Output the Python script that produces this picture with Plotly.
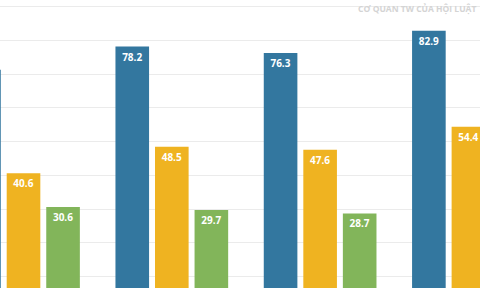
import plotly.graph_objects as go

categories = ["Nhóm 1", "Nhóm 2", "Nhóm 3", "Nhóm 4"]
series_blue = [71.3, 78.2, 76.3, 82.9]
series_yellow = [40.6, 48.5, 47.6, 54.4]
series_green = [30.6, 29.7, 28.7, None]
watermark = "CƠ QUAN TW CỦA HỘI LUẬT"

colors = ["#33779f", "#efb321", "#82b55a"]

fig = go.Figure()
for i, (vals, col, name) in enumerate(zip([series_blue, series_yellow, series_green], colors, ["A", "B", "C"])):
    labels = [None if v is None else f"{v:.1f}" for v in vals]
    if i == 0:
        labels[0] = None  # label of the bar cut off at the left edge is not visible
    fig.add_trace(go.Bar(
        x=categories, y=vals, name=name,
        marker=dict(color=col, line=dict(width=0)),
        text=labels,
        textposition="inside", insidetextanchor="end", textangle=0,
        constraintext="none",
        textfont=dict(family="Open Sans", size=10, color="white", weight="bold"),
        cliponaxis=True,
    ))

fig.update_layout(
    width=480, height=288,
    margin=dict(l=0, r=0, t=0, b=0),
    paper_bgcolor="white", plot_bgcolor="white",
    barmode="group", bargap=0.2, bargroupgap=0.15,
    showlegend=False,
    xaxis=dict(range=[-0.1585, 3.078], showgrid=False, showticklabels=False,
               zeroline=False, showline=False, ticks=""),
    yaxis=dict(range=[6.6, 92.0], dtick=10, tick0=0, showgrid=True,
               gridcolor="#ebebeb", gridwidth=1, showticklabels=False,
               zeroline=False, showline=False, ticks=""),
)

fig.add_annotation(
    x=478 / 480, y=1 - 9 / 288, xref="paper", yref="paper", text=watermark, showarrow=False,
    font=dict(family="Open Sans", size=8.5, color="#d4d4d4", weight="bold"),
    xanchor="right", yanchor="middle",
)

fig.write_html("out.html")
